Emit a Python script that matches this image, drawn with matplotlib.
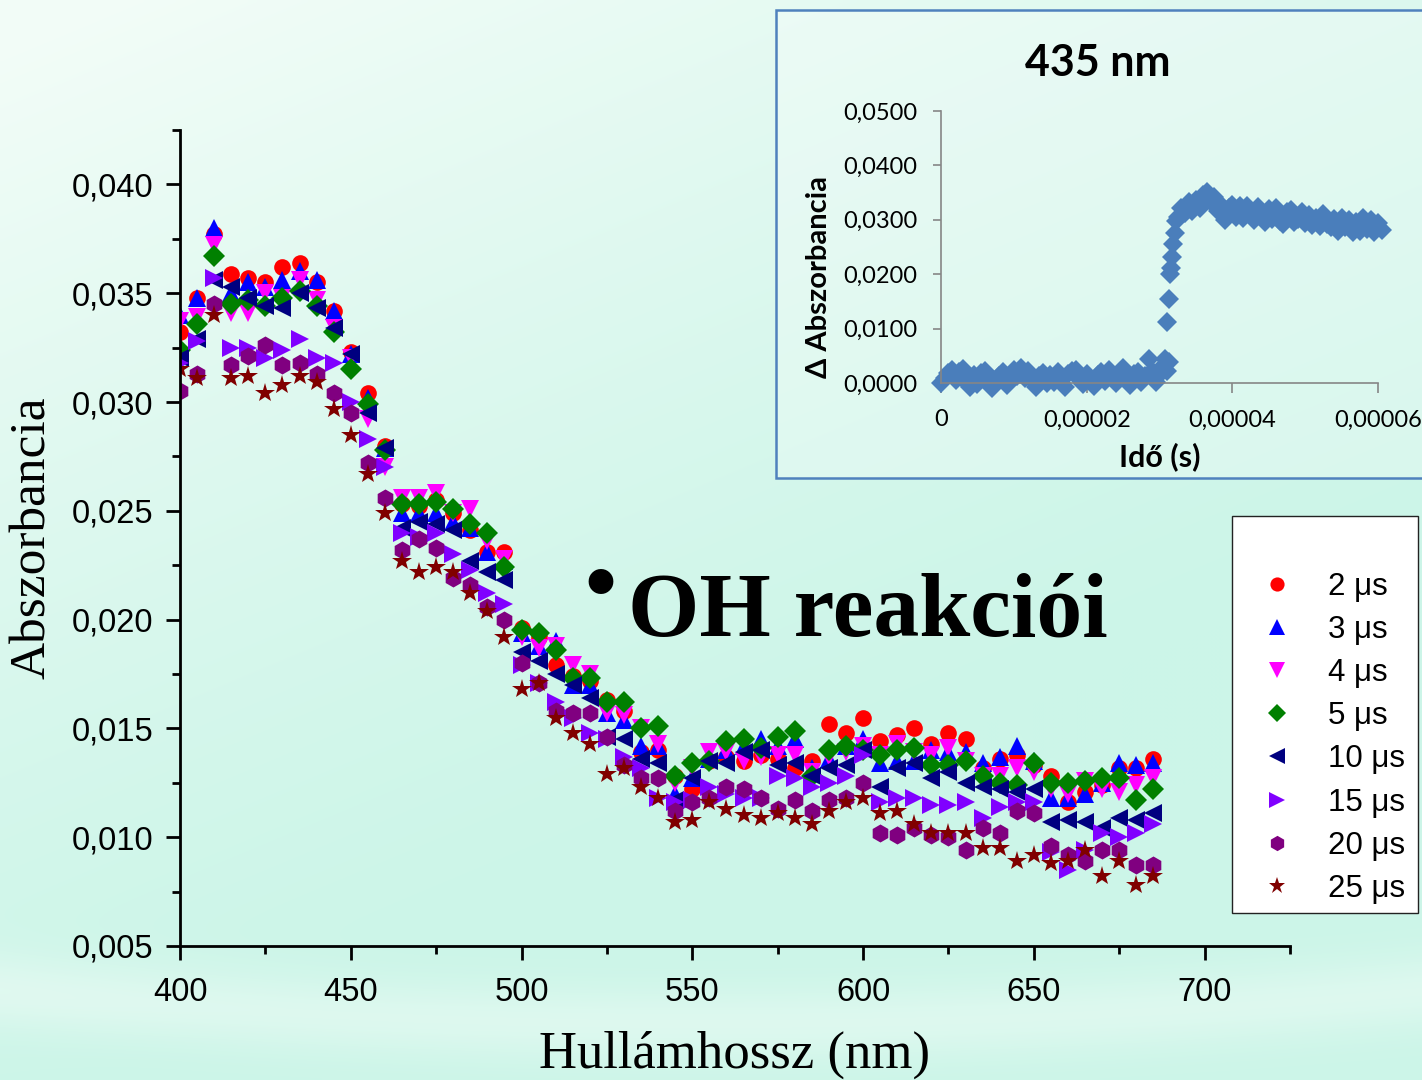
import numpy as np
import matplotlib
matplotlib.use("Agg")
import matplotlib.pyplot as plt
from matplotlib.patches import Rectangle
from matplotlib.ticker import MultipleLocator, FuncFormatter

W, H = 1422, 1080

# wavelengths (nm)
wavelength = np.arange(400, 690, 5)

abs_2us = [0.0332, 0.0348, 0.0377, 0.0359, 0.0357, 0.0355, 0.0362, 0.0364, 0.0355, 0.0342,
           0.0323, 0.0304, 0.0280, 0.0253, 0.0252, 0.0255, 0.0249, 0.0241, 0.0231, 0.0231,
           0.0196, 0.0192, 0.0179, 0.0174, 0.0172, 0.0163, 0.0158, 0.0139, 0.0140, 0.0128,
           0.0122, 0.0135, 0.0137, 0.0135, 0.0138, 0.0136, 0.0132, 0.0135, 0.0152, 0.0148,
           0.0155, 0.0144, 0.0147, 0.0150, 0.0143, 0.0148, 0.0145, 0.0132, 0.0136, 0.0138,
           0.0133, 0.0128, 0.0116, 0.0121, 0.0124, 0.0132, 0.0132, 0.0136]
abs_3us = [0.0340, 0.0348, 0.0380, 0.0350, 0.0355, 0.0353, 0.0356, 0.0360, 0.0356, 0.0342,
           0.0322, 0.0302, 0.0279, 0.0249, 0.0249, 0.0249, 0.0245, 0.0242, 0.0231, 0.0227,
           0.0194, 0.0188, 0.0190, 0.0170, 0.0170, 0.0157, 0.0154, 0.0142, 0.0142, 0.0120,
           0.0127, 0.0136, 0.0140, 0.0142, 0.0145, 0.0142, 0.0145, 0.0132, 0.0136, 0.0142,
           0.0145, 0.0134, 0.0135, 0.0135, 0.0140, 0.0139, 0.0139, 0.0134, 0.0137, 0.0142,
           0.0135, 0.0118, 0.0118, 0.0120, 0.0125, 0.0134, 0.0133, 0.0134]
abs_4us = [0.0337, 0.0339, 0.0372, 0.0341, 0.0341, 0.0350, 0.0348, 0.0356, 0.0347, 0.0334,
           0.0320, 0.0292, 0.0270, 0.0256, 0.0256, 0.0258, 0.0249, 0.0251, 0.0236, 0.0228,
           0.0192, 0.0187, 0.0188, 0.0179, 0.0175, 0.0157, 0.0156, 0.0150, 0.0143, 0.0125,
           0.0132, 0.0139, 0.0139, 0.0135, 0.0137, 0.0138, 0.0138, 0.0130, 0.0137, 0.0139,
           0.0142, 0.0138, 0.0143, 0.0139, 0.0138, 0.0141, 0.0135, 0.0128, 0.0128, 0.0132,
           0.0130, 0.0122, 0.0120, 0.0126, 0.0122, 0.0121, 0.0124, 0.0127]
abs_5us = [0.0324, 0.0336, 0.0367, 0.0345, 0.0347, 0.0344, 0.0348, 0.0351, 0.0344, 0.0332,
           0.0315, 0.0299, 0.0278, 0.0253, 0.0253, 0.0254, 0.0251, 0.0244, 0.0240, 0.0224,
           0.0195, 0.0194, 0.0186, 0.0173, 0.0173, 0.0162, 0.0162, 0.0150, 0.0151, 0.0128,
           0.0134, 0.0135, 0.0144, 0.0145, 0.0141, 0.0146, 0.0149, 0.0128, 0.0140, 0.0142,
           0.0140, 0.0138, 0.0140, 0.0141, 0.0133, 0.0133, 0.0135, 0.0128, 0.0125, 0.0124,
           0.0134, 0.0125, 0.0125, 0.0126, 0.0127, 0.0127, 0.0117, 0.0122]
abs_10us = [0.0320, 0.0329, 0.0356, 0.0353, 0.0348, 0.0344, 0.0343, 0.0350, 0.0343, 0.0334,
            0.0322, 0.0295, 0.0279, 0.0242, 0.0245, 0.0244, 0.0241, 0.0227, 0.0222, 0.0218,
            0.0185, 0.0181, 0.0175, 0.0170, 0.0164, 0.0146, 0.0145, 0.0136, 0.0134, 0.0117,
            0.0127, 0.0135, 0.0134, 0.0139, 0.0140, 0.0133, 0.0134, 0.0128, 0.0132, 0.0133,
            0.0140, 0.0123, 0.0132, 0.0134, 0.0127, 0.0130, 0.0125, 0.0123, 0.0122, 0.0121,
            0.0122, 0.0107, 0.0108, 0.0107, 0.0104, 0.0109, 0.0108, 0.0111]
abs_15us = [0.0318, 0.0328, 0.0357, 0.0325, 0.0325, 0.0320, 0.0324, 0.0329, 0.0320, 0.0318,
            0.0300, 0.0283, 0.0270, 0.0240, 0.0238, 0.0240, 0.0230, 0.0223, 0.0212, 0.0207,
            0.0179, 0.0171, 0.0162, 0.0155, 0.0148, 0.0145, 0.0137, 0.0132, 0.0118, 0.0116,
            0.0117, 0.0123, 0.0120, 0.0118, 0.0118, 0.0128, 0.0127, 0.0123, 0.0125, 0.0128,
            0.0138, 0.0116, 0.0118, 0.0118, 0.0115, 0.0115, 0.0116, 0.0109, 0.0114, 0.0116,
            0.0116, 0.0093, 0.0085, 0.0094, 0.0102, 0.0100, 0.0102, 0.0106]
abs_20us = [0.0305, 0.0313, 0.0345, 0.0317, 0.0321, 0.0326, 0.0317, 0.0318, 0.0313, 0.0304,
            0.0295, 0.0272, 0.0256, 0.0232, 0.0237, 0.0233, 0.0219, 0.0216, 0.0206, 0.0200,
            0.0180, 0.0171, 0.0158, 0.0157, 0.0157, 0.0146, 0.0133, 0.0127, 0.0127, 0.0112,
            0.0116, 0.0118, 0.0123, 0.0122, 0.0118, 0.0113, 0.0117, 0.0112, 0.0117, 0.0118,
            0.0125, 0.0102, 0.0101, 0.0104, 0.0101, 0.0100, 0.0094, 0.0104, 0.0102, 0.0112,
            0.0111, 0.0096, 0.0092, 0.0089, 0.0094, 0.0094, 0.0087, 0.0087]
abs_25us = [0.0315, 0.0311, 0.0340, 0.0311, 0.0312, 0.0304, 0.0308, 0.0312, 0.0309, 0.0297,
            0.0285, 0.0267, 0.0249, 0.0227, 0.0222, 0.0224, 0.0222, 0.0212, 0.0204, 0.0192,
            0.0168, 0.0171, 0.0155, 0.0148, 0.0143, 0.0129, 0.0132, 0.0123, 0.0118, 0.0107,
            0.0108, 0.0116, 0.0113, 0.0110, 0.0109, 0.0111, 0.0109, 0.0106, 0.0112, 0.0116,
            0.0118, 0.0111, 0.0112, 0.0106, 0.0102, 0.0102, 0.0102, 0.0095, 0.0095, 0.0089,
            0.0092, 0.0088, 0.0089, 0.0094, 0.0082, 0.0089, 0.0078, 0.0082]

labels = ["2 μs", "3 μs", "4 μs", "5 μs", "10 μs", "15 μs", "20 μs", "25 μs"]
series = [abs_2us, abs_3us, abs_4us, abs_5us, abs_10us, abs_15us, abs_20us, abs_25us]
colors = ["#ff0000", "#0000ff", "#ff00ff", "#008000", "#000080", "#8000ff", "#800080", "#800000"]
markers = ["o", "^", "v", "D", "<", ">", "h", "*"]
msizes = [12, 13, 13, 11, 13, 13, 13, 15]

# inset: kinetic trace at 435 nm (time in microseconds)
t_base = np.arange(0, 30.5, 0.5)
y_base = [0.0000, 0.0010, 0.0018, 0.0024, 0.0006, 0.0020, 0.0026, 0.0002, -0.0008, 0.0014,
          -0.0002, 0.0018, 0.0022, 0.0004, -0.0009, 0.0002, 0.0012, 0.0020, -0.0004, 0.0008,
          0.0024, 0.0012, 0.0027, 0.0010, 0.0022, 0.0006, -0.0008, 0.0012, 0.0018, 0.0000,
          0.0014, 0.0002, 0.0020, 0.0006, -0.0007, 0.0016, 0.0022, 0.0024, 0.0008, -0.0002,
          0.0017, 0.0004, -0.0006, 0.0014, 0.0020, 0.0004, 0.0024, 0.0012, 0.0000, 0.0018,
          0.0027, 0.0008, -0.0003, 0.0016, 0.0020, 0.0002, 0.0012, 0.0045, 0.0022, 0.0002, 0.0016]
t_rise = [30.4, 30.7, 31.0, 31.07, 31.3, 31.36, 31.5, 31.6, 31.75, 31.9, 32.1, 32.3]
y_rise = [0.0030, 0.0045, 0.0022, 0.0113, 0.0038, 0.0155, 0.0200, 0.0212, 0.0232, 0.0255, 0.0275, 0.0298]
t_plat = np.arange(32.5, 61.0, 0.5)
y_plat = [0.0305, 0.0322, 0.0312, 0.0332, 0.0316, 0.0336, 0.0322, 0.0345, 0.0352, 0.0334,
          0.0342, 0.0316, 0.0328, 0.0300, 0.0322, 0.0328, 0.0306, 0.0326, 0.0304, 0.0326,
          0.0312, 0.0300, 0.0324, 0.0306, 0.0296, 0.0320, 0.0302, 0.0322, 0.0298, 0.0292,
          0.0314, 0.0318, 0.0296, 0.0302, 0.0314, 0.0294, 0.0308, 0.0290, 0.0304, 0.0288,
          0.0310, 0.0292, 0.0286, 0.0302, 0.0280, 0.0304, 0.0286, 0.0300, 0.0278, 0.0296,
          0.0280, 0.0304, 0.0284, 0.0300, 0.0278, 0.0294, 0.0282]

t_inset = np.concatenate([t_base, t_rise, t_plat]) * 1e-6
y_inset = np.concatenate([y_base, y_rise, y_plat])

fig = plt.figure(figsize=(W / 100, H / 100), dpi=100)

# soft mint background
yy, xx = np.mgrid[0:1:270j, 0:1:356j]
mint = np.array([0.80, 0.962, 0.91])
white = np.array([0.95, 0.99, 0.97])
w = np.clip(1.05 - (0.55 * xx + 1.0 * yy), 0, 1) ** 1.3
band = 0.45 * np.exp(-((yy - 0.95 + 0.12 * (xx - 0.5) ** 2) / 0.035) ** 2)
w = np.clip(w + band, 0, 1)[..., None]
bg_img = mint * (1 - w) + white * w
bg = fig.add_axes([0, 0, 1, 1], zorder=-1)
bg.imshow(bg_img, aspect="auto", interpolation="bilinear", extent=[0, 1, 0, 1])
bg.axis("off")

# main spectrum axes
ax = fig.add_axes([180 / W, 1 - 946 / H, 1110 / W, (946 - 130) / H])
ax.set_facecolor("none")
handles = []
for vals, c, m, ms, lab in zip(series, colors, markers, msizes, labels):
    h, = ax.plot(wavelength, vals, linestyle="none", marker=m, ms=ms,
                 color=c, markeredgewidth=0, label=lab)
    handles.append(h)

ax.set_xlim(400, 725)
ax.set_ylim(0.005, 0.0425)
ax.xaxis.set_major_locator(MultipleLocator(50))
ax.xaxis.set_minor_locator(MultipleLocator(25))
ax.yaxis.set_major_locator(MultipleLocator(0.005))
ax.yaxis.set_minor_locator(MultipleLocator(0.0025))
ax.yaxis.set_major_formatter(FuncFormatter(lambda v, p: f"{v:.3f}".replace(".", ",")))
for s in ["top", "right"]:
    ax.spines[s].set_visible(False)
for s in ["left", "bottom"]:
    ax.spines[s].set_linewidth(2)
ax.tick_params(which="major", length=10, width=2, direction="out", labelsize=23.5)
ax.tick_params(axis="x", which="major", pad=12)
ax.tick_params(axis="y", which="major", pad=9)
ax.tick_params(which="minor", length=6, width=2, direction="out")
for lbl in ax.get_xticklabels() + ax.get_yticklabels():
    lbl.set_family("Liberation Sans")

leg = ax.legend(handles, labels, loc="upper left",
                bbox_to_anchor=(1232 / W, 1 - 914 / H, 186 / W, 398 / H),
                bbox_transform=fig.transFigure, mode="expand", borderaxespad=0,
                prop={"family": "Liberation Sans", "size": 22.5},
                title=" ", title_fontsize=25,
                markerscale=0.85, handlelength=2.35, handletextpad=0.45,
                labelspacing=0.42, borderpad=0.28, frameon=True, fancybox=False)
leg.get_frame().set_facecolor("white")
leg.get_frame().set_edgecolor("#222222")
leg.get_frame().set_linewidth(1.0)
leg.get_frame().set_alpha(1)

fig.text(33 / W, 1 - 538 / H, "Abszorbancia", rotation=90, fontsize=37,
         family="Liberation Serif", ha="center", va="center")
fig.text(735 / W, 1 - 1055 / H, "Hullámhossz (nm)", fontsize=38,
         family="Liberation Serif", ha="center", va="center")

fig.text(600 / W, 1 - 612 / H, "•", fontsize=66, fontweight="bold",
         family="Liberation Serif", ha="center", va="baseline")
fig.text(628 / W, 1 - 636 / H, "OH reakciói", fontsize=66, fontweight="bold",
         family="Liberation Serif", ha="left", va="baseline")

# inset frame
fig.patches.append(Rectangle((776 / W, 1 - 478 / H), 660 / W, 468 / H,
                             transform=fig.transFigure, facecolor=(1, 1, 1, 0.25),
                             edgecolor="#4f81bd", linewidth=1.8, zorder=1))

ax2 = fig.add_axes([941 / W, 1 - 383 / H, 437 / W, 272 / H], zorder=2)
ax2.set_facecolor("none")
ax2.plot(t_inset, y_inset, linestyle="none", marker="D", ms=10,
         color="#4a7ebb", markeredgewidth=0, clip_on=False)
ax2.set_xlim(0, 6e-5)
ax2.set_ylim(0, 0.05)
ax2.xaxis.set_major_locator(MultipleLocator(2e-5))
ax2.yaxis.set_major_locator(MultipleLocator(0.01))
ax2.xaxis.set_major_formatter(FuncFormatter(
    lambda v, p: "0" if abs(v) < 1e-12 else f"{v:.5f}".replace(".", ",")))
ax2.yaxis.set_major_formatter(FuncFormatter(lambda v, p: f"{v:.4f}".replace(".", ",")))
for s in ["top", "right"]:
    ax2.spines[s].set_visible(False)
for s in ["left", "bottom"]:
    ax2.spines[s].set_color("#868686")
    ax2.spines[s].set_linewidth(1.2)
ax2.tick_params(axis="x", length=7, width=1.2, color="#868686", labelsize=17, pad=12)
ax2.tick_params(axis="y", length=6, width=1.2, color="#868686", labelsize=17, pad=11)
for lbl in ax2.get_xticklabels() + ax2.get_yticklabels():
    lbl.set_family(["Lato", "DejaVu Sans"])

fig.text(1098 / W, 1 - 63 / H, "435 nm", fontsize=31, fontweight="bold",
         family=["Lato", "DejaVu Sans"], ha="center", va="center")
fig.text(819 / W, 1 - 277 / H, "Δ Abszorbancia", rotation=90, fontsize=21,
         fontweight="bold", family=["Lato", "DejaVu Sans"], ha="center", va="center")
fig.text(1160 / W, 1 - 457 / H, "Idő (s)", fontsize=22, fontweight="bold",
         family=["Lato", "DejaVu Sans"], ha="center", va="center")

fig.savefig("out.png", dpi=100)
